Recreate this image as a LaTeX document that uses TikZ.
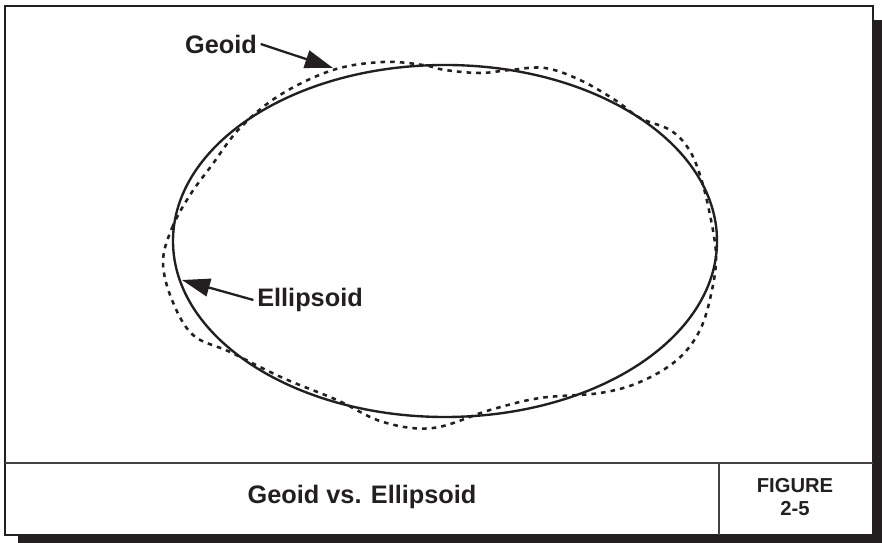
\documentclass[tikz,border=0pt]{standalone}
\usepackage{fontspec}
\setmainfont{Liberation Sans}
\usetikzlibrary{arrows.meta, positioning}
\definecolor{tinta}{HTML}{231F20}
\tikzset{
  shd/.style = {fill=tinta, draw=none},
  frm/.style = {draw=tinta, fill=white, line width=1.3pt},
  sep/.style = {draw=tinta!85, line width=1.1pt},
  elp/.style = {draw=tinta, line width=1.35pt},
  geo/.style = {draw=tinta, line width=1.45pt, dash pattern=on 2.6pt off 2.9pt},
  lbl/.style = {font=\bfseries\fontsize{14.4}{17}\selectfont, text=tinta, inner sep=2pt},
  ttl/.style = {font=\bfseries\fontsize{14.4}{17}\selectfont, text=tinta},
  fig/.style = {font=\bfseries\fontsize{11.5}{13.5}\selectfont, text=tinta, align=center},
  seta/.style = {-{Triangle[length=5.6mm, width=3.6mm]}, line width=1.3pt, draw=tinta}
}

\begin{document}
\begin{tikzpicture}
  \useasboundingbox (0,0) rectangle (17.64,10.86);
  % shadow and frame
  \fill [shd] (0.36,0) rectangle (17.64,10.46);
  \draw [frm] (0.1,0.16) rectangle (17.46,10.74);
  \draw [sep] (0.1,1.6) -- (17.46,1.6);
  \draw [sep] (14.38,0.16) -- (14.38,1.6);
  \node [ttl] (tit) at (7.24,0.92) {Geoid vs. Ellipsoid};
  \node [fig] (num) at (15.9,0.92) {FIGURE\\2-5};
  % ellipsoid
  \draw [elp] (8.9,6.04) ellipse [x radius=5.44cm, y radius=3.52cm];
  % geoid
  \draw [geo] plot [smooth cycle, tension=0.6] coordinates {
    (3.26,5.62) (3.44,6.30) (3.80,6.96) (4.24,7.56) (4.80,8.30)
    (5.60,8.96) (6.66,9.46) (7.66,9.62) (8.46,9.56) (8.90,9.46)
    (9.60,9.40) (10.20,9.46) (10.90,9.50) (11.60,9.26) (12.30,8.86)
    (12.80,8.50) (13.40,8.26) (13.76,7.90) (14.00,7.36) (14.20,6.56)
    (14.32,5.76) (14.24,5.06) (14.00,4.26) (13.54,3.66) (12.80,3.22)
    (12.00,3.00) (10.80,2.90) (9.80,2.66) (8.66,2.30) (7.66,2.42)
    (6.74,2.86) (5.66,3.30) (4.60,3.82) (3.86,4.16) (3.44,4.86)};
  % labels
  \node [lbl] (geoid) at (4.42,9.98) {Geoid};
  \coordinate (gtip) at (6.66,9.50);
  \draw [seta] (geoid.east) -- (gtip);
  \node [lbl] (ellip) at (6.2,4.86) {Ellipsoid};
  \coordinate (etip) at (3.64,5.26);
  \draw [seta] (ellip.west) -- (etip);
\end{tikzpicture}
\end{document}
